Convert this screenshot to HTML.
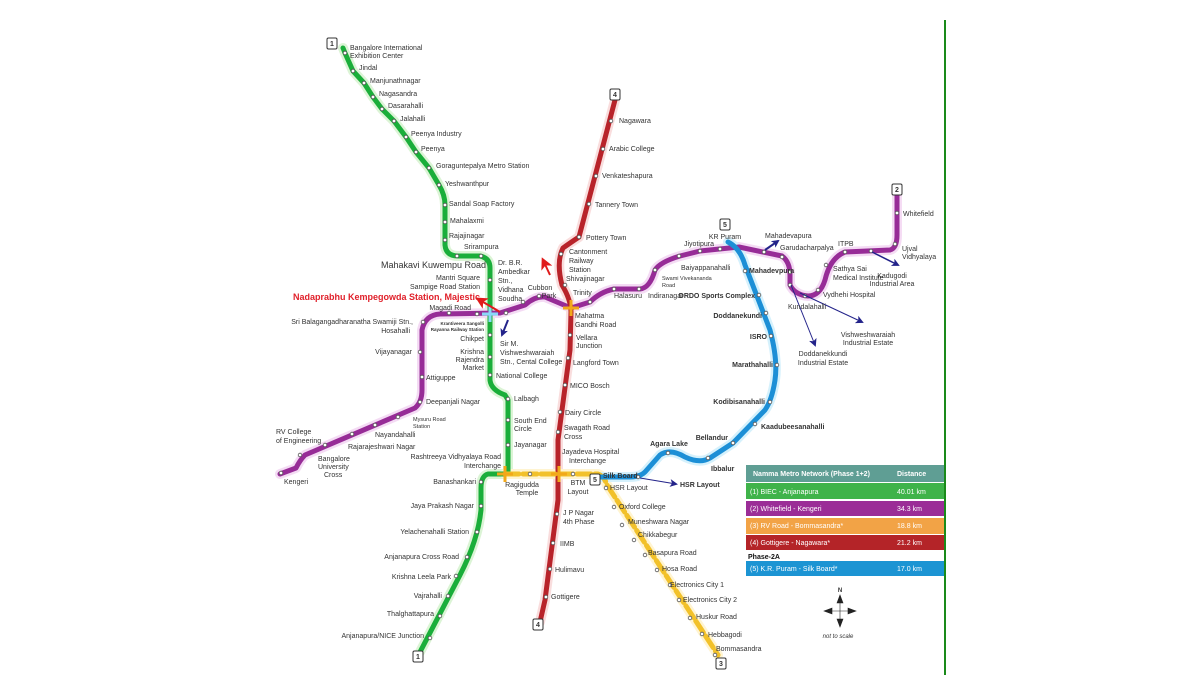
<!DOCTYPE html>
<html><head><meta charset="utf-8"><style>
html,body{margin:0;padding:0;background:#fff;}
svg{display:block;font-family:"Liberation Sans",sans-serif;}
text{fill:#333;font-size:7px;}
.b{font-weight:bold;}
</style></head><body>
<svg width="1200" height="675" viewBox="0 0 1200 675" xmlns="http://www.w3.org/2000/svg">
<defs>
<marker id="ab" markerWidth="8" markerHeight="8" refX="6" refY="4" orient="auto" markerUnits="userSpaceOnUse"><path d="M0,0 L8,4 L0,8 L2,4z" fill="#23238a"/></marker>
<marker id="ar" markerWidth="12" markerHeight="12" refX="9" refY="6" orient="auto" markerUnits="userSpaceOnUse"><path d="M0,0 L12,6 L0,12 L3,6z" fill="#e01b1b"/></marker>
</defs>
<line x1="945" y1="20" x2="945" y2="675" stroke="#1a8a1a" stroke-width="2"/>
<g fill="none" stroke-linecap="round" stroke-linejoin="round">
<g stroke-width="10" opacity="0.35">
<path stroke="#9be08a" d="M343,48 L345,53 L353,71 L364,83 L373,97 L382,109 L394,121 L406,137 L416,152 L429,168 L439,185 Q445,195 445,205 L445,245 Q446,256 458,256 L480,256 Q490,258 490,268 L490,380 Q491,390 505,395 L508,400 L508,474 L488,474 Q481,476 481,488 L481,510 Q478,540 460,575 L420,652"/>
<path stroke="#e29ae0" d="M280,474 L296,468 Q300,460 305,455 L415,408 Q422,402 422,390 L422,330 Q425,315 440,314 L500,313 L525,305 Q535,296 545,297 L571,308 L590,302 Q600,292 614,289 L640,289 Q650,288 655,270 Q660,262 680,256 L700,251 L739,247 L782,256 Q790,262 790,275 L790,285 Q795,295 808,296 Q820,296 825,280 Q830,258 845,252 L890,250 Q897,248 897,235 L897,195"/>
<path stroke="#f0a0a0" d="M615,100 L579,237 Q570,243 563,248 Q556,262 562,285 Q571,300 571,312 L570,350 L558,440 L558,500 L545,600 L540,622"/>
<path stroke="#ffe07a" d="M505,474 L598,474 Q604,476 607,485 L718,655"/>
<path stroke="#8ad8f8" d="M728,242 Q740,248 745,265 L770,330 Q778,360 775,380 Q772,400 765,410 L733,443 L710,458 Q700,464 685,457 Q670,448 660,455 L645,472 Q640,477 630,477 L598,477"/>
</g>
<path stroke="#1aae3a" stroke-width="5" d="M343,48 L345,53 L353,71 L364,83 L373,97 L382,109 L394,121 L406,137 L416,152 L429,168 L439,185 Q445,195 445,205 L445,245 Q446,256 458,256 L480,256 Q490,258 490,268 L490,380 Q491,390 505,395 L508,400 L508,474 L488,474 Q481,476 481,488 L481,510 Q478,540 460,575 L420,652"/>
<path stroke="#972c97" stroke-width="5" d="M280,474 L296,468 Q300,460 305,455 L415,408 Q422,402 422,390 L422,330 Q425,315 440,314 L500,313 L525,305 Q535,296 545,297 L571,308 L590,302 Q600,292 614,289 L640,289 Q650,288 655,270 Q660,262 680,256 L700,251 L739,247 L782,256 Q790,262 790,275 L790,285 Q795,295 808,296 Q820,296 825,280 Q830,258 845,252 L890,250 Q897,248 897,235 L897,195"/>
<path stroke="#b8232a" stroke-width="5" d="M615,100 L579,237 Q570,243 563,248 Q556,262 562,285 Q571,300 571,312 L570,350 L558,440 L558,500 L545,600 L540,622"/>
<path stroke="#f2c12a" stroke-width="5" stroke-dasharray="14 4" d="M505,474 L598,474 Q604,476 607,485 L718,655"/>
<path stroke="#1c8fd6" stroke-width="5" d="M728,242 Q740,248 745,265 L770,330 Q778,360 775,380 Q772,400 765,410 L733,443 L710,458 Q700,464 685,457 Q670,448 660,455 L645,472 Q640,477 630,477 L598,477"/>
</g>
<g fill="#fff" stroke="#555" stroke-width="0.8">
<circle cx="345" cy="53" r="1.8"/><circle cx="353" cy="71" r="1.8"/><circle cx="364" cy="83" r="1.8"/><circle cx="373" cy="97" r="1.8"/><circle cx="382" cy="109" r="1.8"/><circle cx="394" cy="121" r="1.8"/><circle cx="406" cy="137" r="1.8"/><circle cx="416" cy="152" r="1.8"/><circle cx="429" cy="168" r="1.8"/><circle cx="439" cy="185" r="1.8"/><circle cx="445" cy="205" r="1.8"/><circle cx="445" cy="222" r="1.8"/><circle cx="445" cy="240" r="1.8"/><circle cx="457" cy="256" r="1.8"/><circle cx="481" cy="256" r="1.8"/><circle cx="490" cy="280" r="1.8"/><circle cx="490" cy="335" r="1.8"/><circle cx="490" cy="357" r="1.8"/><circle cx="490" cy="375" r="1.8"/><circle cx="508" cy="399" r="1.8"/><circle cx="508" cy="420" r="1.8"/><circle cx="508" cy="445" r="1.8"/><circle cx="481" cy="482" r="1.8"/><circle cx="481" cy="506" r="1.8"/><circle cx="477" cy="532" r="1.8"/><circle cx="467" cy="557" r="1.8"/><circle cx="456" cy="576" r="1.8"/><circle cx="448" cy="596" r="1.8"/><circle cx="440" cy="616" r="1.8"/><circle cx="430" cy="638" r="1.8"/>
<circle cx="281" cy="473" r="1.8"/><circle cx="300" cy="455" r="1.8"/><circle cx="325" cy="445" r="1.8"/><circle cx="352" cy="434" r="1.8"/><circle cx="375" cy="425" r="1.8"/><circle cx="398" cy="417" r="1.8"/><circle cx="420" cy="402" r="1.8"/><circle cx="422" cy="377" r="1.8"/><circle cx="420" cy="352" r="1.8"/><circle cx="423" cy="322" r="1.8"/><circle cx="449" cy="313" r="1.8"/><circle cx="477" cy="314" r="1.8"/><circle cx="506" cy="313" r="1.8"/><circle cx="523" cy="302" r="1.8"/><circle cx="539" cy="296" r="1.8"/><circle cx="590" cy="302" r="1.8"/><circle cx="614" cy="289" r="1.8"/><circle cx="639" cy="289" r="1.8"/><circle cx="655" cy="270" r="1.8"/><circle cx="679" cy="256" r="1.8"/><circle cx="700" cy="251" r="1.8"/><circle cx="720" cy="249" r="1.8"/><circle cx="764" cy="252" r="1.8"/><circle cx="782" cy="257" r="1.8"/><circle cx="790" cy="272" r="1.8"/><circle cx="790" cy="285" r="1.8"/><circle cx="805" cy="296" r="1.8"/><circle cx="818" cy="290" r="1.8"/><circle cx="826" cy="265" r="1.8"/><circle cx="845" cy="252" r="1.8"/><circle cx="871" cy="251" r="1.8"/><circle cx="895" cy="244" r="1.8"/><circle cx="897" cy="213" r="1.8"/>
<circle cx="611" cy="121" r="1.8"/><circle cx="603" cy="149" r="1.8"/><circle cx="596" cy="176" r="1.8"/><circle cx="589" cy="204" r="1.8"/><circle cx="579" cy="237" r="1.8"/><circle cx="561" cy="254" r="1.8"/><circle cx="565" cy="285" r="1.8"/><circle cx="570" cy="335" r="1.8"/><circle cx="568" cy="358" r="1.8"/><circle cx="565" cy="385" r="1.8"/><circle cx="560" cy="412" r="1.8"/><circle cx="558" cy="432" r="1.8"/><circle cx="557" cy="514" r="1.8"/><circle cx="553" cy="543" r="1.8"/><circle cx="550" cy="569" r="1.8"/><circle cx="546" cy="597" r="1.8"/>
<circle cx="530" cy="474" r="1.8"/><circle cx="573" cy="474" r="1.8"/><circle cx="606" cy="488" r="1.8"/><circle cx="614" cy="507" r="1.8"/><circle cx="622" cy="525" r="1.8"/><circle cx="634" cy="540" r="1.8"/><circle cx="645" cy="555" r="1.8"/><circle cx="657" cy="570" r="1.8"/><circle cx="670" cy="585" r="1.8"/><circle cx="679" cy="600" r="1.8"/><circle cx="690" cy="618" r="1.8"/><circle cx="702" cy="634" r="1.8"/><circle cx="715" cy="655" r="1.8"/>
<circle cx="745" cy="271" r="1.8"/><circle cx="759" cy="295" r="1.8"/><circle cx="766" cy="313" r="1.8"/><circle cx="771" cy="336" r="1.8"/><circle cx="777" cy="365" r="1.8"/><circle cx="770" cy="402" r="1.8"/><circle cx="755" cy="424" r="1.8"/><circle cx="733" cy="443" r="1.8"/><circle cx="708" cy="458" r="1.8"/><circle cx="668" cy="453" r="1.8"/><circle cx="638" cy="477" r="1.8"/>
</g>
<g stroke-width="3">
<g stroke="#8ad8f8"><line x1="482" y1="314" x2="498" y2="314"/><line x1="490" y1="306" x2="490" y2="322"/></g>
<g stroke="#f2a81a"><line x1="563" y1="308" x2="579" y2="308"/><line x1="571" y1="300" x2="571" y2="316"/>
<line x1="497" y1="474" x2="513" y2="474"/><line x1="505" y1="466" x2="505" y2="482"/>
<line x1="551" y1="474" x2="567" y2="474"/><line x1="559" y1="466" x2="559" y2="482"/></g>
</g>
<g fill="#fff" stroke="#333" stroke-width="1">
<rect x="327" y="38" width="10" height="11" rx="1.5"/><rect x="413" y="651" width="10" height="11" rx="1.5"/>
<rect x="610" y="89" width="10" height="11" rx="1.5"/><rect x="533" y="619" width="10" height="11" rx="1.5"/>
<rect x="892" y="184" width="10" height="11" rx="1.5"/><rect x="716" y="658" width="10" height="11" rx="1.5"/>
<rect x="720" y="219" width="10" height="11" rx="1.5"/><rect x="590" y="474" width="10" height="11" rx="1.5"/>
</g>
<g class="b" style="font-size:7px" text-anchor="middle">
<text x="332" y="46">1</text><text x="418" y="659">1</text><text x="615" y="97">4</text><text x="538" y="627">4</text><text x="897" y="192">2</text><text x="721" y="666">3</text><text x="725" y="227">5</text><text x="595" y="482">5</text>
</g>
<g stroke-width="1">
<line x1="500" y1="312" x2="478" y2="299" stroke="#e01b1b" stroke-width="2" marker-end="url(#ar)"/>
<line x1="550" y1="275" x2="543" y2="260" stroke="#e01b1b" stroke-width="2" marker-end="url(#ar)"/>
<line x1="508" y1="320" x2="502" y2="335" stroke="#23238a" stroke-width="2" marker-end="url(#ab)"/>
<line x1="765" y1="250" x2="778" y2="241" stroke="#23238a" stroke-width="2" marker-end="url(#ab)"/>
<line x1="872" y1="252" x2="898" y2="265" stroke="#23238a" stroke-width="1.5" marker-end="url(#ab)"/>
<line x1="791" y1="285" x2="815" y2="345" stroke="#23238a" marker-end="url(#ab)"/>
<line x1="800" y1="293" x2="862" y2="322" stroke="#23238a" marker-end="url(#ab)"/>
<line x1="640" y1="478" x2="676" y2="484" stroke="#23238a" marker-end="url(#ab)"/>
</g>
<text x="350" y="50">Bangalore International</text><text x="350" y="58">Exhibition Center</text>
<text x="359" y="70">Jindal</text><text x="370" y="83">Manjunathnagar</text><text x="379" y="96">Nagasandra</text><text x="388" y="108">Dasarahalli</text><text x="400" y="121">Jalahalli</text><text x="411" y="136">Peenya Industry</text><text x="421" y="151">Peenya</text><text x="436" y="168">Goraguntepalya Metro Station</text><text x="445" y="186">Yeshwanthpur</text><text x="449" y="206">Sandal Soap Factory</text><text x="450" y="223">Mahalaxmi</text><text x="449" y="238">Rajajinagar</text><text x="464" y="249">Srirampura</text>
<text x="381" y="268" style="font-size:9px">Mahakavi Kuwempu Road</text>
<text x="480" y="280" text-anchor="end">Mantri Square</text><text x="480" y="289" text-anchor="end">Sampige Road Station</text>
<text x="293" y="300" class="b" style="font-size:9px;fill:#e0202a">Nadaprabhu Kempegowda Station, Majestic</text>
<text x="471" y="310" text-anchor="end">Magadi Road</text>
<text x="413" y="324" text-anchor="end">Sri Balagangadharanatha Swamiji Stn.,</text><text x="410" y="333" text-anchor="end">Hosahalli</text>
<text x="484" y="325" text-anchor="end" class="b" style="font-size:4.5px">Krantiveera Sangolli</text><text x="484" y="331" text-anchor="end" class="b" style="font-size:4.5px">Rayanna Railway Station</text>
<text x="484" y="341" text-anchor="end">Chikpet</text><text x="484" y="354" text-anchor="end">Krishna</text><text x="484" y="362" text-anchor="end">Rajendra</text><text x="484" y="370" text-anchor="end">Market</text>
<text x="496" y="378">National College</text>
<text x="498" y="265">Dr. B.R.</text><text x="498" y="274">Ambedkar</text><text x="498" y="283">Stn.,</text><text x="498" y="292">Vidhana</text><text x="498" y="301">Soudha</text>
<text x="500" y="346">Sir M.</text><text x="500" y="355">Vishweshwaraiah</text><text x="500" y="364">Stn., Cental College</text>
<text x="514" y="401">Lalbagh</text><text x="514" y="423">South End</text><text x="514" y="431">Circle</text><text x="514" y="447">Jayanagar</text>
<text x="501" y="459" text-anchor="end">Rashtreeya Vidhyalaya Road</text><text x="501" y="468" text-anchor="end">Interchange</text>
<text x="476" y="484" text-anchor="end">Banashankari</text><text x="474" y="508" text-anchor="end">Jaya Prakash Nagar</text><text x="469" y="534" text-anchor="end">Yelachenahalli Station</text><text x="459" y="559" text-anchor="end">Anjanapura Cross Road</text><text x="451" y="579" text-anchor="end">Krishna Leela Park</text><text x="442" y="598" text-anchor="end">Vajrahalli</text><text x="434" y="616" text-anchor="end">Thalghattapura</text><text x="424" y="638" text-anchor="end">Anjanapura/NICE Junction</text>
<text x="412" y="354" text-anchor="end">Vijayanagar</text><text x="426" y="380">Attiguppe</text><text x="426" y="404">Deepanjali Nagar</text>
<text x="413" y="421" style="font-size:5.5px">Mysuru Road</text><text x="413" y="428" style="font-size:5.5px">Station</text>
<text x="375" y="437">Nayandahalli</text><text x="348" y="449">Rajarajeshwari Nagar</text>
<text x="318" y="461">Bangalore</text><text x="318" y="469">University</text><text x="324" y="477">Cross</text>
<text x="276" y="434">RV College</text><text x="276" y="443">of Engineering</text><text x="284" y="484">Kengeri</text>
<text x="619" y="123">Nagawara</text><text x="609" y="151">Arabic College</text><text x="602" y="178">Venkateshapura</text><text x="595" y="207">Tannery Town</text><text x="586" y="240">Pottery Town</text>
<text x="569" y="254">Cantonment</text><text x="569" y="263">Railway</text><text x="569" y="272">Station</text><text x="566" y="281">Shivajinagar</text>
<text x="540" y="290" text-anchor="middle">Cubbon</text><text x="549" y="298" text-anchor="middle">Park</text><text x="573" y="295">Trinity</text>
<text x="575" y="318">Mahatma</text><text x="575" y="327">Gandhi Road</text><text x="576" y="340">Vellara</text><text x="576" y="348">Junction</text>
<text x="573" y="365">Langford Town</text><text x="570" y="388">MICO Bosch</text><text x="565" y="415">Dairy Circle</text><text x="564" y="430">Swagath Road</text><text x="564" y="439">Cross</text>
<text x="562" y="454">Jayadeva Hospital</text><text x="569" y="463">Interchange</text>
<text x="563" y="515">J P Nagar</text><text x="563" y="524">4th Phase</text><text x="560" y="546">IIMB</text><text x="555" y="572">Hulimavu</text><text x="551" y="599">Gottigere</text>
<text x="522" y="487" text-anchor="middle">Ragigudda</text><text x="527" y="495" text-anchor="middle">Temple</text>
<text x="578" y="485" text-anchor="middle">BTM</text><text x="578" y="494" text-anchor="middle">Layout</text>
<text x="610" y="490">HSR Layout</text><text x="619" y="509">Oxford College</text><text x="628" y="524">Muneshwara Nagar</text><text x="638" y="537">Chikkabegur</text><text x="648" y="555">Basapura Road</text><text x="662" y="571">Hosa Road</text><text x="670" y="587">Electronics City 1</text><text x="683" y="602">Electronics City 2</text><text x="696" y="619">Huskur Road</text><text x="708" y="637">Hebbagodi</text><text x="716" y="651">Bommasandra</text>
<text x="614" y="298">Halasuru</text><text x="648" y="298">Indiranagar</text>
<text x="662" y="280" style="font-size:5.5px">Swami Vivekananda</text><text x="662" y="287" style="font-size:5.5px">Road</text>
<text x="681" y="270">Baiyappanahalli</text><text x="684" y="246">Jiyotipura</text><text x="725" y="239" text-anchor="middle">KR Puram</text>
<text x="765" y="238">Mahadevapura</text><text x="780" y="250">Garudacharpalya</text><text x="838" y="246">ITPB</text>
<text x="833" y="271">Sathya Sai</text><text x="833" y="280">Medical Institute</text><text x="823" y="297">Vydhehi Hospital</text><text x="788" y="309">Kundalahalli</text>
<text x="902" y="251">Ujval</text><text x="902" y="259">Vidhyalaya</text><text x="903" y="216">Whitefield</text>
<text x="892" y="278" text-anchor="middle">Kadugodi</text><text x="892" y="286" text-anchor="middle">Industrial Area</text>
<text x="868" y="337" text-anchor="middle">Vishweshwaraiah</text><text x="868" y="345" text-anchor="middle">Industrial Estate</text>
<text x="823" y="356" text-anchor="middle">Doddanekkundi</text><text x="823" y="365" text-anchor="middle">Industrial Estate</text>
<g class="b" style="font-size:5.5px">
<text x="749" y="273">Mahadevpura</text><text x="755" y="298" text-anchor="end">DRDO Sports Complex</text><text x="762" y="318" text-anchor="end">Doddanekundi</text><text x="767" y="339" text-anchor="end">ISRO</text><text x="773" y="367" text-anchor="end">Marathahalli</text><text x="765" y="404" text-anchor="end">Kodibisanahalli</text><text x="761" y="429">Kaadubeesanahalli</text><text x="728" y="440" text-anchor="end">Bellandur</text><text x="711" y="471">Ibbalur</text><text x="669" y="446" text-anchor="middle">Agara Lake</text><text x="603" y="478">Silk Board</text><text x="680" y="487">HSR Layout</text>
</g>
<rect x="746" y="465" width="198" height="17" fill="#5f9e94"/>
<rect x="746" y="483" width="198" height="16" fill="#3fb34a"/>
<rect x="746" y="501" width="198" height="15" fill="#9b2d97"/>
<rect x="746" y="518" width="198" height="16" fill="#f2a346"/>
<rect x="746" y="535" width="198" height="15" fill="#b42428"/>
<rect x="746" y="561" width="198" height="15" fill="#1c94d3"/>
<g style="font-size:7px">
<text x="753" y="476" class="b" style="fill:#fff">Namma Metro  Network (Phase 1+2)</text><text x="897" y="476" class="b" style="fill:#fff">Distance</text>
<text x="750" y="494" style="fill:#fff">(1) BIEC - Anjanapura</text><text x="897" y="494" style="fill:#fff">40.01 km</text>
<text x="750" y="511" style="fill:#fff">(2) Whitefield - Kengeri</text><text x="897" y="511" style="fill:#fff">34.3 km</text>
<text x="750" y="528" style="fill:#fff">(3) RV Road - Bommasandra*</text><text x="897" y="528" style="fill:#fff">18.8 km</text>
<text x="750" y="545" style="fill:#fff">(4) Gottigere - Nagawara*</text><text x="897" y="545" style="fill:#fff">21.2 km</text>
<text x="748" y="559" class="b" style="fill:#111">Phase-2A</text>
<text x="750" y="571" style="fill:#fff">(5) K.R. Puram - Silk Board*</text><text x="897" y="571" style="fill:#fff">17.0 km</text>
</g>
<g fill="#222" stroke="#222" stroke-width="0.6">
<line x1="840" y1="596" x2="840" y2="626"/><line x1="825" y1="611" x2="855" y2="611"/>
<path d="M840,595 L837,603 L843,603z"/><path d="M840,627 L837,619 L843,619z"/><path d="M824,611 L832,608 L832,614z"/><path d="M856,611 L848,608 L848,614z"/>
</g>
<text x="840" y="592" text-anchor="middle" class="b" style="font-size:6px">N</text>
<text x="838" y="638" text-anchor="middle" style="font-size:6px;font-style:italic">not to scale</text>
</svg>
</body></html>
